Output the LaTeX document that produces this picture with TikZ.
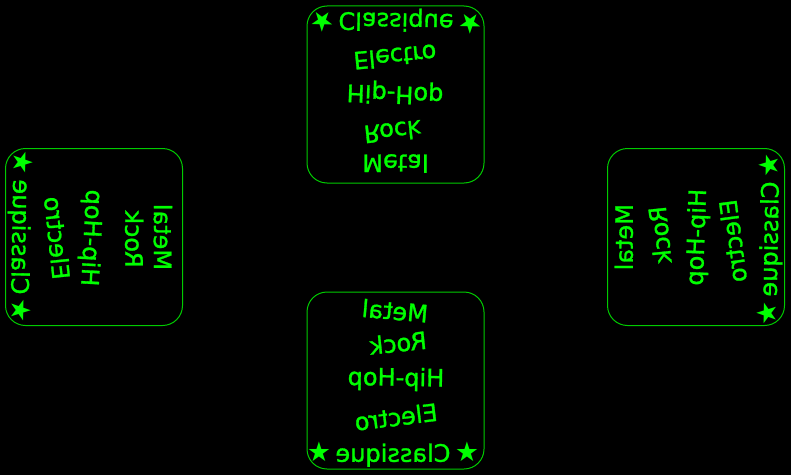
\documentclass[tikz,border=0pt]{standalone}
\usepackage{fontspec}
\setmainfont{DejaVu Sans}
\newfontfamily\genrefont{DejaVu Sans}[FakeBold=1.2]
\definecolor{txtgreen}{HTML}{00FF00}
\definecolor{boxgreen}{HTML}{00CC00}
\tikzset{
  genre/.style={text=txtgreen, inner sep=0pt, font=\genrefont\fontsize{24}{28}\selectfont, text height=17.5pt, text depth=0pt, anchor=center, transform shape},
  starnode/.style={text=txtgreen, inner sep=0pt, font=\fontsize{27}{27}\selectfont, anchor=center, transform shape},
  card/.style={draw=boxgreen, line width=1pt, rounded corners=20pt, minimum width=177pt, minimum height=177pt, inner sep=0pt},
}
\newcommand\classline[1]{%
  \node[genre] (#1) {Classique};
  \node[starnode] (#1s1) at (-74,1.5) {★};
  \node[starnode] (#1s2) at (74,1.5) {★};}
\begin{document}
\begin{tikzpicture}[x=1pt,y=1pt]
\fill[black] (0,0) rectangle (791,475);
\useasboundingbox (0,0) rectangle (791,475);
% cards
\node[card] (cardT) at (395.5,380.5) {};
\node[card] (cardB) at (395.5,94.5) {};
\node[card] (cardL) at (94,238) {};
\node[card] (cardR) at (696,238) {};
% top card (vertical mirror)
\begin{scope}[shift={(396,453)},rotate=-1,yscale=-1]\classline{tC}\end{scope}
\begin{scope}[shift={(395,418)},rotate=5.5,yscale=-1]\node[genre] (tE) {Electro};\end{scope}
\begin{scope}[shift={(395,380)},rotate=-2,yscale=-1]\node[genre] (tH) {Hip-Hop};\end{scope}
\begin{scope}[shift={(392.5,343.3)},rotate=6,yscale=-1]\node[genre] (tR) {Rock};\end{scope}
\begin{scope}[shift={(395.5,311.7)},rotate=0,yscale=-1]\node[genre] (tM) {Metal};\end{scope}
% bottom card (horizontal mirror)
\begin{scope}[shift={(395,164)},rotate=-5,xscale=-1]\node[genre] (bM) {Metal};\end{scope}
\begin{scope}[shift={(398,132)},rotate=6,xscale=-1]\node[genre] (bR) {Rock};\end{scope}
\begin{scope}[shift={(396,98)},rotate=-1,xscale=-1]\node[genre] (bH) {Hip-Hop};\end{scope}
\begin{scope}[shift={(396,58)},rotate=7,xscale=-1]\node[genre] (bE) {Electro};\end{scope}
\begin{scope}[shift={(393,22)},rotate=0,xscale=-1]\classline{bC}\end{scope}
% left card (transpose)
\begin{scope}[shift={(21,238)},rotate=-1,rotate=-90,xscale=-1]\classline{lC}\end{scope}
\begin{scope}[shift={(57,237)},rotate=6,rotate=-90,xscale=-1]\node[genre] (lE) {Electro};\end{scope}
\begin{scope}[shift={(92.5,237)},rotate=-3,rotate=-90,xscale=-1]\node[genre] (lH) {Hip-Hop};\end{scope}
\begin{scope}[shift={(134,236)},rotate=0,rotate=-90,xscale=-1]\node[genre] (lR) {Rock};\end{scope}
\begin{scope}[shift={(162.7,238)},rotate=0,rotate=-90,xscale=-1]\node[genre] (lM) {Metal};\end{scope}
% right card (anti-transpose)
\begin{scope}[shift={(769,236)},rotate=-1,rotate=90,xscale=-1]\classline{rC}\end{scope}
\begin{scope}[shift={(733,234)},rotate=7.5,rotate=90,xscale=-1]\node[genre] (rE) {Electro};\end{scope}
\begin{scope}[shift={(695.7,237.8)},rotate=-2,rotate=90,xscale=-1]\node[genre] (rH) {Hip-Hop};\end{scope}
\begin{scope}[shift={(660,240)},rotate=6,rotate=90,xscale=-1]\node[genre] (rR) {Rock};\end{scope}
\begin{scope}[shift={(624,237.8)},rotate=0,rotate=90,xscale=-1]\node[genre] (rM) {Metal};\end{scope}
\end{tikzpicture}
\end{document}
